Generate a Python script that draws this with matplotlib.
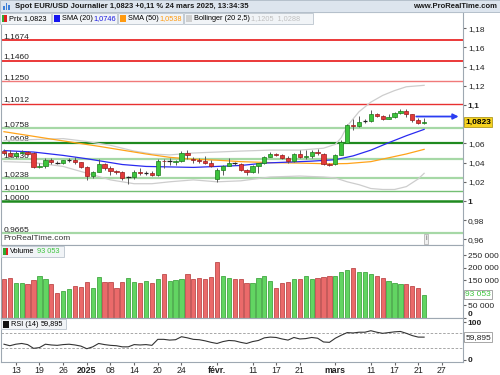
import matplotlib
matplotlib.use("Agg")
import matplotlib.pyplot as plt
import matplotlib.patches as mpatches
import numpy as np

plt.rcParams["font.family"] = ["Liberation Sans", "DejaVu Sans"]

# Daily EUR/USD candles, 11 Dec 2024 -> 24 Mar 2025 (one value per trading day)
opens = [1.0520, 1.0497, 1.0468, 1.0502, 1.0512, 1.0497, 1.0352, 1.0364, 1.0430, 1.0407,
         1.0401, 1.0422, 1.0428, 1.0406, 1.0354, 1.0265, 1.0307, 1.0388, 1.0343, 1.0317,
         1.0300, 1.0244, 1.0248, 1.0300, 1.0292, 1.0294, 1.0273, 1.0420, 1.0412, 1.0408,
         1.0415, 1.0497, 1.0435, 1.0428, 1.0420, 1.0392, 1.0226, 1.0323, 1.0365, 1.0400,
         1.0385, 1.0323, 1.0300, 1.0365, 1.0392, 1.0462, 1.0490, 1.0483, 1.0452, 1.0420,
         1.0490, 1.0460, 1.0465, 1.0515, 1.0486, 1.0385, 1.0385, 1.0480, 1.0607, 1.0795,
         1.0780, 1.0830, 1.0837, 1.0906, 1.0885, 1.0855, 1.0877, 1.0920, 1.0940, 1.0903,
         1.0848, 1.0815]
highs = [1.0538, 1.0530, 1.0524, 1.0533, 1.0520, 1.0506, 1.0394, 1.0445, 1.0445, 1.0417,
         1.0430, 1.0445, 1.0458, 1.0410, 1.0368, 1.0315, 1.0437, 1.0397, 1.0360, 1.0320,
         1.0310, 1.0260, 1.0320, 1.0345, 1.0315, 1.0311, 1.0433, 1.0440, 1.0445, 1.0430,
         1.0522, 1.0533, 1.0455, 1.0445, 1.0468, 1.0430, 1.0345, 1.0380, 1.0444, 1.0410,
         1.0400, 1.0335, 1.0375, 1.0400, 1.0470, 1.0513, 1.0505, 1.0490, 1.0470, 1.0505,
         1.0528, 1.0528, 1.0528, 1.0545, 1.0500, 1.0400, 1.0494, 1.0640, 1.0798, 1.0855,
         1.0888, 1.0855, 1.0945, 1.0915, 1.0895, 1.0905, 1.0925, 1.0955, 1.0955, 1.0910,
         1.0860, 1.0860]
lows = [1.0478, 1.0460, 1.0452, 1.0490, 1.0475, 1.0343, 1.0343, 1.0343, 1.0385, 1.0385,
        1.0385, 1.0405, 1.0387, 1.0343, 1.0220, 1.0241, 1.0300, 1.0323, 1.0273, 1.0281,
        1.0215, 1.0180, 1.0225, 1.0268, 1.0268, 1.0265, 1.0265, 1.0340, 1.0375, 1.0375,
        1.0410, 1.0435, 1.0399, 1.0395, 1.0385, 1.0355, 1.0200, 1.0270, 1.0360, 1.0370,
        1.0310, 1.0275, 1.0290, 1.0295, 1.0385, 1.0455, 1.0465, 1.0435, 1.0400, 1.0410,
        1.0450, 1.0440, 1.0450, 1.0480, 1.0370, 1.0360, 1.0370, 1.0475, 1.0600, 1.0740,
        1.0770, 1.0815, 1.0820, 1.0870, 1.0845, 1.0850, 1.0865, 1.0905, 1.0880, 1.0820,
        1.0800, 1.0800]
closes = [1.0497, 1.0468, 1.0502, 1.0512, 1.0490, 1.0352, 1.0364, 1.0430, 1.0407, 1.0401,
          1.0422, 1.0428, 1.0406, 1.0354, 1.0265, 1.0307, 1.0388, 1.0343, 1.0317, 1.0300,
          1.0244, 1.0248, 1.0300, 1.0292, 1.0294, 1.0273, 1.0417, 1.0412, 1.0414, 1.0415,
          1.0495, 1.0475, 1.0428, 1.0420, 1.0392, 1.0362, 1.0323, 1.0365, 1.0400, 1.0395,
          1.0323, 1.0305, 1.0362, 1.0393, 1.0462, 1.0490, 1.0483, 1.0452, 1.0420, 1.0490,
          1.0460, 1.0470, 1.0507, 1.0500, 1.0385, 1.0375, 1.0480, 1.0618, 1.0790, 1.0785,
          1.0826, 1.0834, 1.0906, 1.0890, 1.0855, 1.0877, 1.0920, 1.0940, 1.0903, 1.0848,
          1.0815, 1.0823]
volumes = [154000, 157000, 141000, 141000, 137000, 149000, 165000, 154000, 134000, 101000,
           109000, 114000, 129000, 123000, 145000, 121000, 161000, 143000, 143000, 121000,
           145000, 157000, 145000, 139000, 147000, 139000, 153000, 173000, 147000, 149000,
           153000, 175000, 153000, 157000, 154000, 161000, 221000, 167000, 158000, 153000,
           153000, 141000, 139000, 157000, 167000, 147000, 121000, 141000, 145000, 153000,
           153000, 167000, 154000, 159000, 161000, 167000, 167000, 181000, 189000, 197000,
           181000, 181000, 175000, 167000, 159000, 146000, 140000, 134000, 134000, 129000,
           121000, 93053]
rsi = [41, 37, 41, 43, 40, 30, 32, 41, 39, 38, 40, 41, 39, 36, 29, 34, 43, 40, 38, 37,
       34, 34, 40, 39, 40, 38, 54, 54, 52, 53, 61, 58, 54, 53, 50, 46, 43, 48, 51, 50,
       46, 43, 48, 51, 58, 60, 59, 55, 52, 59, 55, 56, 59, 57, 47, 46, 57, 65, 72, 71,
       73, 73, 77, 73, 70, 72, 74, 75, 70, 64, 60, 59.895]

sma20_idx = [0, 5, 10, 14, 17, 20, 24, 28, 32, 36, 40, 44, 48, 52, 56, 59, 62, 65, 68, 71]
sma20_val = [1.0525, 1.0510, 1.0475, 1.0440, 1.0410, 1.0380, 1.0360, 1.0355, 1.0350, 1.0360,
             1.0370, 1.0395, 1.0405, 1.0415, 1.0430, 1.0470, 1.0530, 1.0607, 1.0680, 1.0746]
sma50_idx = [0, 8, 16, 20, 24, 28, 32, 36, 40, 45, 50, 55, 58, 62, 65, 68, 71]
sma50_val = [1.0722, 1.0645, 1.0570, 1.0530, 1.0490, 1.0455, 1.0435, 1.0425, 1.0410, 1.0400,
             1.0395, 1.0387, 1.0390, 1.0410, 1.0450, 1.0490, 1.0538]
boll_idx = [0, 5, 10, 14, 18, 22, 25, 28, 32, 36, 40, 45, 50, 54, 56, 57, 58, 60, 62, 64, 66, 68, 70, 71]
boll_up = [1.0630, 1.0640, 1.0650, 1.0620, 1.0580, 1.0520, 1.0490, 1.0480, 1.0500, 1.0510,
           1.0520, 1.0530, 1.0530, 1.0550, 1.0590, 1.0660, 1.0780, 1.0930, 1.1030, 1.1100,
           1.1150, 1.1190, 1.1200, 1.1205]
boll_low = [1.0410, 1.0400, 1.0360, 1.0290, 1.0220, 1.0180, 1.0180, 1.0200, 1.0220, 1.0200,
            1.0210, 1.0250, 1.0260, 1.0250, 1.0240, 1.0220, 1.0200, 1.0170, 1.0130, 1.0120,
            1.0120, 1.0150, 1.0230, 1.0288]

# horizontal levels drawn on the chart
levels = [1.1674, 1.1460, 1.1250, 1.1012, 1.0758, 1.0608, 1.0437, 1.0238, 1.0100, 1.0000, 0.9665]
level_labels = ["1,1674", "1,1460", "1,1250", "1,1012", "1,0758", "1,0608", "1,0436",
                "1,0238", "1,0100", "1,0000", "0,9665"]
level_colors = ["#e81818", "#e81818", "#f07a7a", "#e83030", "#a6d8a6", "#1f8a1f", "#a6d8a6",
                "#a6d8a6", "#74bf74", "#1f8a1f", "#a6d8a6"]
level_widths = [1.2, 1.2, 1.0, 1.0, 1.6, 1.6, 1.6, 1.6, 1.0, 1.8, 1.6]

# tick labels hidden behind the last-value boxes are left blank, as on the chart
price_ticks = [1.18, 1.16, 1.14, 1.12, 1.10, 1.08, 1.06, 1.04, 1.02, 1.00, 0.98, 0.96]
price_tick_labels = ["1,18", "1,16", "1,14", "1,12", "1,1", "", "1,06", "1,04", "1,02", "1", "0,98", "0,96"]
vol_ticks = [0, 50000, 100000, 150000, 200000, 250000]
vol_tick_labels = ["0", "50 000", "", "150 000", "200 000", "250 000"]
rsi_ticks = [0, 50, 100]
rsi_tick_labels = ["0", "", "100"]

date_ticks = [2, 6, 10, 14, 18, 22, 26, 30, 36, 42, 46, 50, 56, 62, 66, 70, 74]
date_labels = ["13", "19", "26", "2025", "08", "14", "20", "24", "févr.", "11", "17", "21",
               "mars", "11", "17", "21", "27"]

GREEN = "#3cc43c"
GREEN_EDGE = "#1b7d1b"
RED = "#e23a3a"
RED_EDGE = "#9a1a1a"
FRAME = "#9ea8b2"
W, H = 500, 375
FS = 6.0      # axis text
LFS = 5.3     # legend text


def fx(x):
    return x / W


def fy(y):
    return 1 - y / H


def style_axis(ax):
    for s in ax.spines.values():
        s.set_color(FRAME)
        s.set_linewidth(0.8)
    ax.yaxis.tick_right()
    ax.tick_params(axis="y", length=2, pad=1.5, labelsize=FS, colors="#222222")
    ax.tick_params(axis="y", color="#666666")
    ax.set_xlim(-0.5, 77.57)


def box(fig, x0, y0, x1, y1, fc="#f1f4f7", ec="#c3cbd3"):
    fig.patches.append(mpatches.Rectangle((fx(x0), fy(y1)), (x1 - x0) / W, (y1 - y0) / H,
                                          transform=fig.transFigure, facecolor=fc,
                                          edgecolor=ec, linewidth=0.7, zorder=5))


def swatch(fig, x0, y0, w, h, color):
    fig.patches.append(mpatches.Rectangle((fx(x0), fy(y0 + h)), w / W, h / H,
                                          transform=fig.transFigure, facecolor=color, zorder=6))


o = np.array(opens)
h = np.array(highs)
l = np.array(lows)
c = np.array(closes)
x = np.arange(len(c))

fig = plt.figure(figsize=(5, 3.75), dpi=100)
ax_p = fig.add_axes([fx(1), fy(245), fx(462), (245 - 12) / H])
ax_v = fig.add_axes([fx(1), fy(318), fx(462), (318 - 245) / H])
ax_r = fig.add_axes([fx(1), fy(362), fx(462), (362 - 318) / H])

# ---- price panel
style_axis(ax_p)
ax_p.set_ylim(1 - 44 / 960, 1 + 189 / 960)
for lv, lab, col, lw in zip(levels, level_labels, level_colors, level_widths):
    ax_p.axhline(lv, color=col, lw=lw, zorder=1)
    ax_p.text(-0.1, lv + 0.0024, lab, fontsize=FS, color="#222222", zorder=1)

ax_p.plot(boll_idx, boll_up, color="#cdcdcd", lw=0.9, zorder=2)
ax_p.plot(boll_idx, boll_low, color="#cdcdcd", lw=0.9, zorder=2)
ax_p.plot(sma50_idx, sma50_val, color="#ffa31a", lw=0.9, zorder=2)
ax_p.plot(sma20_idx, sma20_val, color="#2a2af0", lw=0.9, zorder=2)

up = c >= o
body_low = np.minimum(o, c)
body_h = np.abs(c - o)
doji = body_h < 0.0006
ax_p.vlines(x, l, h, color="#5a5a5a", lw=0.7, zorder=3)
ax_p.bar(x[up & ~doji], body_h[up & ~doji], bottom=body_low[up & ~doji], width=0.72,
         color=GREEN, edgecolor=GREEN_EDGE, linewidth=0.5, zorder=4)
ax_p.bar(x[~up & ~doji], body_h[~up & ~doji], bottom=body_low[~up & ~doji], width=0.72,
         color=RED, edgecolor=RED_EDGE, linewidth=0.5, zorder=4)
ax_p.hlines(c[doji], x[doji] - 0.4, x[doji] + 0.4, color="#222222", lw=0.9, zorder=4)

ax_p.annotate("", xy=(77.3, 1.0880), xytext=(69.2, 1.0880),
              arrowprops=dict(arrowstyle="-|>", color="#2b3df2", lw=1.3, mutation_scale=8),
              zorder=6)

ax_p.set_xticks([])
ax_p.set_yticks(price_ticks)
ax_p.set_yticklabels(price_tick_labels)
for t in ax_p.get_yticklabels():
    if t.get_text() in ("1,1", "1"):
        t.set_fontweight("bold")
ax_p.text(1.005, closes[-1], "1,0823", transform=ax_p.get_yaxis_transform(), fontsize=FS,
          fontweight="bold", va="center", ha="left", clip_on=False, zorder=7,
          bbox=dict(boxstyle="square,pad=0.15", fc="#f6d21f", ec="#b09a20", lw=0.6))
ax_p.text(0.006, 0.012, "ProRealTime.com", transform=ax_p.transAxes, fontsize=FS,
          color="#333333", va="bottom")
ax_p.text(0.918, 0.012, "i", transform=ax_p.transAxes, fontsize=5, color="#555555",
          va="bottom", bbox=dict(boxstyle="square,pad=0.2", fc="#f0f0f0", ec="#aaaaaa", lw=0.5))

# ---- volume panel
style_axis(ax_v)
prev_close = np.concatenate([[o[0]], c[:-1]])
vol_up = c >= prev_close
vol = np.array(volumes)
ax_v.bar(x[vol_up], vol[vol_up], width=0.72, color="#62d562", edgecolor="#2c9a2c", linewidth=0.5)
ax_v.bar(x[~vol_up], vol[~vol_up], width=0.72, color="#ea6a6a", edgecolor="#b33535", linewidth=0.5)
ax_v.set_ylim(0, 290000)
ax_v.set_xticks([])
ax_v.set_yticks(vol_ticks)
ax_v.set_yticklabels(vol_tick_labels)
for t in ax_v.get_yticklabels():
    if t.get_text() == "0":
        t.set_fontweight("bold")
        t.set_va("bottom")
ax_v.text(1.005, volumes[-1], "93 053", transform=ax_v.get_yaxis_transform(), fontsize=FS,
          color="#3cc43c", va="center", ha="left", clip_on=False, zorder=7,
          bbox=dict(boxstyle="square,pad=0.15", fc="white", ec="#999999", lw=0.6))

# ---- RSI panel
style_axis(ax_r)
ax_r.set_ylim(-6.4, 110.9)
ax_r.axhline(70, color="#999999", lw=0.6, ls=(0, (3, 2)))
ax_r.axhline(30, color="#999999", lw=0.6, ls=(0, (3, 2)))
ax_r.plot(x, rsi, color="#333333", lw=0.8)
ax_r.set_yticks(rsi_ticks)
ax_r.set_yticklabels(rsi_tick_labels)
for t in ax_r.get_yticklabels():
    t.set_fontweight("bold")
ax_r.text(1.005, rsi[-1], "59,895", transform=ax_r.get_yaxis_transform(), fontsize=FS,
          color="#222222", va="center", ha="left", clip_on=False, zorder=7,
          bbox=dict(boxstyle="square,pad=0.15", fc="white", ec="#999999", lw=0.6))
ax_r.set_xticks(date_ticks)
ax_r.set_xticklabels(date_labels)
ax_r.tick_params(axis="x", length=2, pad=1, labelsize=6.3, colors="#222222")
ax_r.tick_params(axis="x", color="#666666")
for t in ax_r.get_xticklabels():
    if t.get_text() in ("2025", "févr.", "mars"):
        t.set_fontweight("bold")

# ---- header and legend boxes
fig.patches.append(mpatches.Rectangle((0, fy(12)), 1, 12 / H, transform=fig.transFigure,
                                      facecolor="#dde5ee", edgecolor="#b5c0cb", linewidth=0.7))
for i, hgt in enumerate([4, 7, 5]):
    swatch(fig, 3 + i * 2.5, 10 - hgt, 1.6, hgt, "#3d7fd8")
fig.text(fx(15), fy(6), "Spot EUR/USD Journalier 1,0823 +0,11 % 24 mars 2025, 13:34:35",
         fontsize=5.5, fontweight="bold", va="center", color="#1a1a1a")
fig.text(fx(497), fy(6), "www.ProRealTime.com", fontsize=5.5, fontweight="bold",
         va="center", ha="right", color="#1a1a1a")

ty = fy(18.5)
box(fig, 0, 13, 51, 24)
swatch(fig, 1.5, 15, 2.8, 7, "#2fa82f")
swatch(fig, 4.3, 15, 2.8, 7, "#e02020")
fig.text(fx(9), ty, "Prix 1,0823", fontsize=LFS, va="center", zorder=7)

box(fig, 52, 13, 117, 24)
swatch(fig, 54, 15, 6, 7, "#1414f0")
fig.text(fx(62), ty, "SMA (20)", fontsize=LFS, va="center", zorder=7)
fig.text(fx(93), ty, "1,0746", fontsize=LFS, va="center", color="#1a1ae0", zorder=7)

box(fig, 118, 13, 183, 24)
swatch(fig, 120, 15, 6, 7, "#ff9a10")
fig.text(fx(128), ty, "SMA (50)", fontsize=LFS, va="center", zorder=7)
fig.text(fx(159), ty, "1,0538", fontsize=LFS, va="center", color="#ff9a10", zorder=7)

box(fig, 184, 13, 313, 24)
swatch(fig, 186, 15, 6, 7, "#cfcfcf")
fig.text(fx(194), ty, "Bollinger (20 2,5)", fontsize=LFS, va="center", zorder=7)
fig.text(fx(251), ty, "1,1205  1,0288", fontsize=LFS, va="center", color="#c0c0c0", zorder=7)

box(fig, 1, 246, 64, 257)
swatch(fig, 3, 248, 2.6, 7, "#2fa82f")
swatch(fig, 5.6, 248, 2.6, 7, "#e02020")
fig.text(fx(10), fy(251.5), "Volume", fontsize=LFS, va="center", zorder=7)
fig.text(fx(37), fy(251.5), "93 053", fontsize=LFS, va="center", color="#3cc43c", zorder=7)

box(fig, 1, 319, 66, 329)
swatch(fig, 3, 320.5, 6, 7, "#111111")
fig.text(fx(11), fy(324), "RSI (14)", fontsize=LFS, va="center", zorder=7)
fig.text(fx(41), fy(324), "59,895", fontsize=LFS, va="center", zorder=7)

fig.savefig("out.png", dpi=100)
plt.close(fig)
